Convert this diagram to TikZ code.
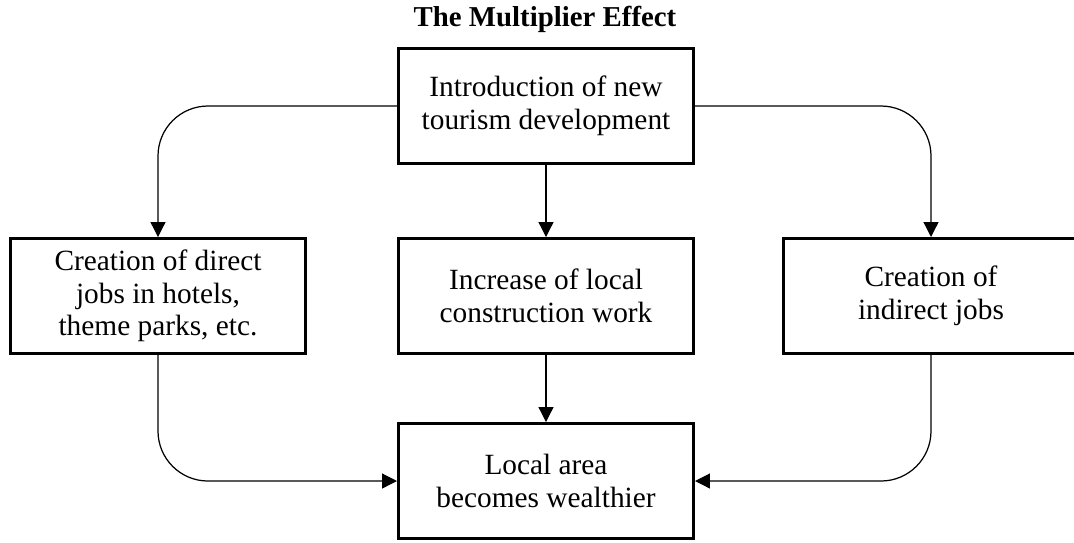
\documentclass[tikz,border=0pt]{standalone}
\usepackage{fontspec}
\setmainfont{Liberation Serif}
\usetikzlibrary{arrows.meta, positioning}

\begin{document}
\begin{tikzpicture}[
	box/.style={draw=black, line width=1.7pt, minimum width=5.9cm, minimum height=2.3cm,
		font=\fontsize{16.7}{18.5}\selectfont, align=center, inner sep=0pt},
	link/.style={line width=0.7pt, rounded corners=1cm},
	>={Triangle[length=8.5pt,width=8.5pt]}
	]
	\useasboundingbox (0,0) rectangle (21.48,-10.84);
	\node[font=\fontsize{16.4}{18}\selectfont\bfseries] (titre) at (10.9,-0.38) {The Multiplier Effect};
	\node[box] (intro)    at (10.92,-2.12) {Introduction of new\\tourism development};
	\node[box] (direct)   at (3.16,-5.92)  {Creation of direct\\jobs in hotels,\\theme parks, etc.};
	\node[box] (constr)   at (10.92,-5.92) {Increase of local\\construction work};
	\node[box] (indirect) at (18.62,-5.92) {Creation of\\indirect jobs};
	\node[box] (wealth)   at (10.92,-9.62) {Local area\\becomes wealthier};
	
	\draw[link,->] (intro.west) -| (direct.north);
	\draw[link,->] (intro.east) -| (indirect.north);
	\draw[link,->] (intro) -- (constr);
	\draw[link,->] (constr) -- (wealth);
	\draw[link,->] (direct.south) |- (wealth.west);
	\draw[link,->] (indirect.south) |- (wealth.east);
\end{tikzpicture}
\end{document}
